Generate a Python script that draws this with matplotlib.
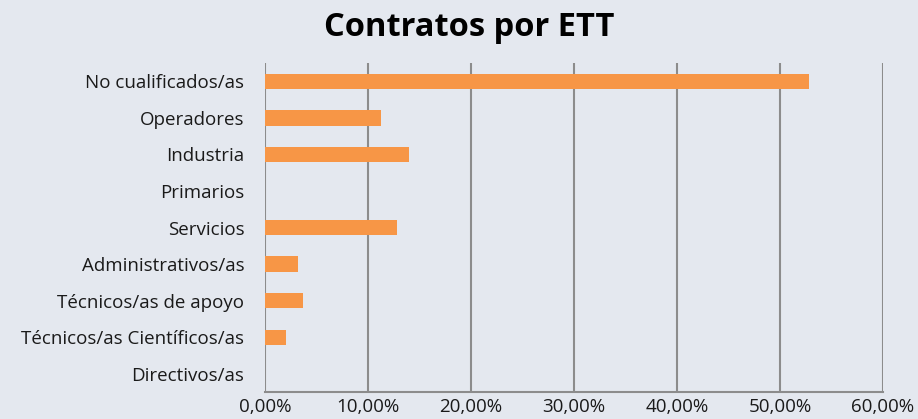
import matplotlib.pyplot as plt
import numpy as np

# data
categorias = ["No cualificados/as", "Operadores", "Industria", "Primarios", "Servicios",
              "Administrativos/as", "Técnicos/as de apoyo", "Técnicos/as Científicos/as",
              "Directivos/as"]
porcentajes = [52.8, 11.3, 14.0, 0.0, 12.8, 3.2, 3.7, 2.0, 0.0]
ticks = [0, 10, 20, 30, 40, 50, 60]

bg = "#E4E8EF"
plt.rcParams['font.family'] = ['Open Sans', 'DejaVu Sans']

fig = plt.figure(figsize=(9.18, 4.19), dpi=100, facecolor=bg)
ax = fig.add_axes([0.2887, 0.0644, 0.6732, 0.7852], facecolor=bg)

y = np.arange(len(categorias))
ax.barh(y, porcentajes, height=0.42, color="#F79646", zorder=3)

ax.set_ylim(len(categorias) - 0.5, -0.5)
ax.set_xlim(0, 60)
ax.set_yticks(y)
ax.set_yticklabels(categorias, fontsize=13.5, color="#1a1a1a")
ax.set_xticks(ticks)
ax.set_xticklabels([f"{t},00%" for t in ticks], fontsize=13.5, color="#1a1a1a")
ax.tick_params(axis='both', length=0)
ax.tick_params(axis='x', pad=4)
ax.tick_params(axis='y', pad=15)

ax.grid(axis='x', color="#8c8c8c", linewidth=1.5, zorder=0)
for s in ["top", "right", "left"]:
    ax.spines[s].set_visible(False)
ax.spines["bottom"].set_color("#8c8c8c")
ax.spines["bottom"].set_linewidth(1.5)

fig.text(0.511, 0.935, "Contratos por ETT", ha='center', va='center',
         fontsize=23.5, fontweight='bold', color="#000000")

fig.savefig("out.png", dpi=100, facecolor=bg)
